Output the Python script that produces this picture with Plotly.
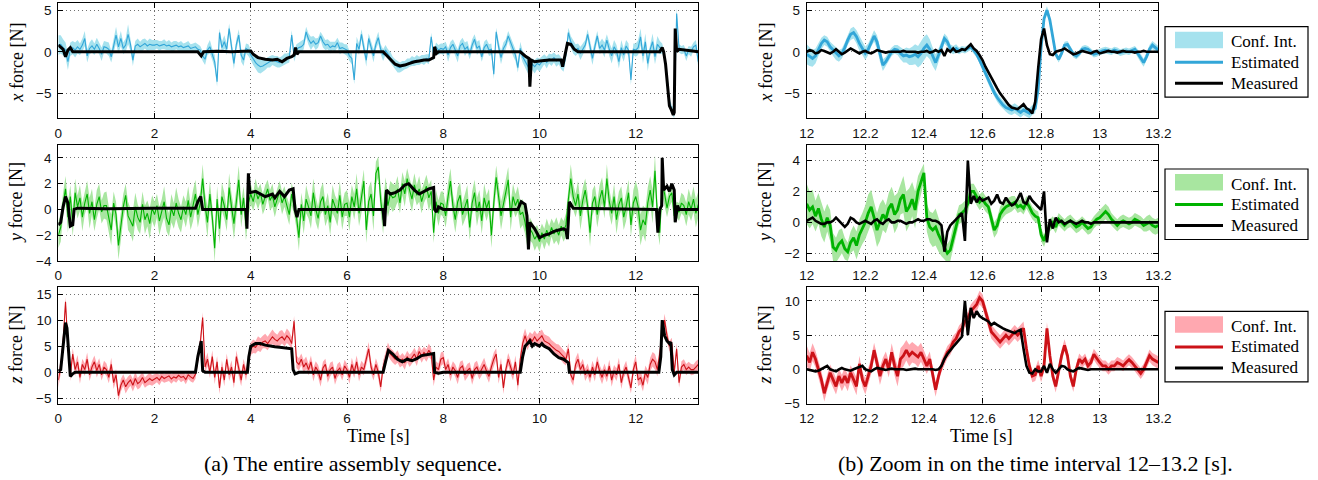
import numpy as np
import plotly.graph_objects as go

# ======================= DATA =======================
# full sequence sampled every 0.05 s (0 ... 13.3 s), zoom sampled every 0.01 s (12 ... 13.2 s)
t_full = np.round(np.arange(267) * 0.05, 2)
t_zoom = np.round(12 + np.arange(121) * 0.01, 2)

est_x_full = [
    0.8, 0.9, 0.5, 0.2, -1.2, 0.3, 0.5, 0.2, 0.6, 0.3, 0.8, 1.6, -0.5, 0.4, 0.7, 0.3, 0.9, 0.4, -0.3, 0.6,
    0.5, 0.3, -0.6, 0.7, 2.0, 0.6, 1.6, 0.4, 0.8, 2.1, 0.9, -1.0, 0.7, 0.9, 0.6, 0.8, 1.0, 0.7, 0.9, 0.8,
    0.8, 0.9, 0.7, 0.8, 0.9, 0.7, 0.8, 0.6, 0.7, 0.8, 0.6, 0.7, 0.5, 0.6, 0.7, 0.4, 0.5, 0.6, 0.3, 0.2,
    -0.5, -0.9, 0.2, 0.6, -0.3, -1.2, -3.6, 2.3, 0.5, 1.2, 0.3, 2.8, 0.6, -1.4, 0.9, 2.0, -0.4, -1.0, 0.4, 0.2,
    -0.4, -0.9, -1.3, -1.6, -1.8, -1.7, -1.5, -1.3, -1.2, -1.0, -1.1, -1.2, -1.3, -1.1, -0.9, -0.8, -0.7, 2.0, -0.5, 0.3,
    0.5, 0.6, 0.9, 2.4, 1.5, 1.0, 1.3, 0.9, 1.1, 1.9, 1.2, 0.8, 0.9, 0.5, 0.7, 0.6, 1.1, 0.4, 0.5, 0.3,
    0.2, -0.5, -0.8, -3.4, 1.0, 0.3, 2.1, 0.4, -1.0, 1.6, 0.6, -0.5, 0.9, 1.7, 0.3, -0.4, 0.2, -0.3, -0.7, -1.2,
    -1.5, -1.8, -1.9, -1.7, -1.6, -1.4, -1.3, -1.1, -1.2, -1.0, -1.1, -0.9, -1.0, -0.8, -0.9, 1.8, -0.5, 0.6, 0.2, 0.4,
    0.3, 0.6, -0.4, 0.5, 0.9, 0.2, -0.5, 0.7, 1.0, 0.3, 0.6, -0.3, 0.8, 1.5, 0.4, 0.7, -0.6, 0.5, 0.9, 0.2,
    0.3, -2.7, 2.4, 0.6, -0.7, 0.4, 0.9, 1.9, 1.1, 0.3, -0.4, -1.9, 0.4, -0.6, -1.1, -1.6, -2.2, -1.5, -1.8, -1.4,
    -1.6, -1.2, -0.9, -1.3, -0.8, -1.0, -0.7, -1.1, -0.9, -1.4, -1.8, -0.3, 2.3, 1.2, 0.6, 0.2, 0.4, -0.2, 0.3, 0.8,
    2.1, 0.5, -0.8, 0.6, 1.9, 0.4, 0.8, 0.2, 1.4, 0.3, -0.5, 0.6, 0.1, -1.2, 0.5, -0.4, 0.7, 0.2, -3.4, 0.3,
    0.2, 0.5, 1.8, -0.5, 1.2, -1.4, 0.3, 1.2, -0.6, 0.9, 0.5, 0.4, -0.6, -3.0, -6.0, -7.0, -7.4, 4.6, 0.4, 0.2,
    0.3, -0.5, 0.2, 0.0, 0.6, 0.8, -1.2]
hw_x_full = [
    1.2, 1.1, 1.0, 0.9, 1.0, 0.8, 0.8, 0.9, 0.8, 0.7, 0.8, 0.9, 0.8, 0.7, 0.8, 0.7, 0.8, 0.7, 0.8, 0.7,
    0.7, 0.8, 0.7, 0.8, 1.0, 0.8, 0.9, 0.7, 0.8, 1.2, 0.8, 0.7, 0.6, 0.7, 0.6, 0.7, 0.6, 0.6, 0.7, 0.6,
    0.6, 0.5, 0.6, 0.5, 0.6, 0.5, 0.6, 0.5, 0.6, 0.5, 0.5, 0.6, 0.5, 0.5, 0.6, 0.5, 0.5, 0.5, 0.6, 0.5,
    0.6, 0.7, 0.6, 0.8, 0.7, 0.8, 0.6, 0.5, 0.7, 0.8, 0.7, 0.6, 0.8, 0.7, 0.6, 0.7, 0.8, 0.7, 0.6, 0.7,
    0.6, 0.7, 0.8, 0.9, 0.8, 0.7, 0.7, 0.6, 0.7, 0.6, 0.6, 0.7, 0.6, 0.6, 0.7, 0.6, 0.6, 0.6, 0.7, 0.6,
    0.6, 0.7, 0.6, 0.6, 0.7, 0.8, 0.6, 0.7, 0.6, 0.5, 0.7, 0.6, 0.6, 0.7, 0.5, 0.6, 0.6, 0.7, 0.6, 0.6,
    0.7, 0.6, 0.7, 0.5, 0.8, 0.7, 0.6, 0.7, 0.8, 0.6, 0.7, 0.8, 0.6, 0.7, 0.6, 0.7, 0.6, 0.6, 0.7, 0.6,
    0.6, 0.7, 0.6, 0.6, 0.5, 0.6, 0.5, 0.6, 0.5, 0.6, 0.5, 0.5, 0.6, 0.5, 0.6, 0.5, 0.6, 0.5, 0.6, 0.6,
    0.7, 0.6, 0.8, 0.7, 0.6, 0.7, 0.8, 0.6, 0.7, 0.8, 0.7, 0.6, 0.7, 0.6, 0.8, 0.7, 0.6, 0.7, 0.6, 0.7,
    0.7, 0.6, 0.5, 0.7, 0.8, 0.7, 0.6, 0.6, 0.7, 0.8, 0.7, 0.6, 0.8, 0.7, 0.8, 0.9, 0.8, 0.7, 0.8, 0.7,
    0.8, 0.7, 0.6, 0.7, 0.6, 0.7, 0.6, 0.7, 0.6, 0.7, 0.6, 0.7, 0.6, 0.7, 0.8, 0.7, 0.6, 0.8, 0.7, 0.6,
    0.6, 0.7, 0.8, 0.7, 0.6, 0.7, 0.8, 0.9, 0.7, 0.8, 0.9, 0.8, 0.7, 0.8, 0.9, 0.8, 0.7, 0.8, 0.6, 0.7,
    0.8, 0.9, 1.0, 0.9, 1.0, 0.9, 0.8, 1.0, 0.9, 1.0, 0.8, 0.6, 0.5, 0.5, 0.6, 0.5, 0.6, 0.7, 0.5, 0.5,
    0.5, 0.6, 0.5, 0.6, 0.5, 0.6, 0.7]
meas_x_t = [0, 0.05, 0.1, 0.15, 0.2, 0.25, 0.3, 2.9, 2.97, 3.02, 3.3, 3.6, 4.0, 4.05, 4.15, 4.3, 4.45,
            4.55, 4.65, 4.75, 4.85, 4.9, 4.93, 4.96, 5.0, 6.75, 6.8, 6.9, 7.0, 7.1, 7.2, 7.3, 7.4, 7.5,
            7.6, 7.7, 7.8, 7.82, 7.86, 7.9, 9.6, 9.7, 9.78, 9.8, 9.83, 9.9, 10.0, 10.2, 10.45, 10.48,
            10.52, 10.58, 10.65, 10.72, 10.8, 12.5, 12.55, 12.58, 12.62, 12.66, 12.7, 12.74, 12.78,
            12.8, 12.82, 12.85, 12.9, 13.3]
meas_x_v = [0.8, 0.6, 0.3, -0.6, 0.2, 0.5, 0.0, 0.0, -0.5, 0.0, 0.05, 0.0, 0.1, -0.3, -0.7, -0.9, -1.0,
            -0.9, -1.2, -0.8, -0.6, -0.4, 0.5, -0.3, 0.0, 0.0, -0.3, -0.8, -1.5, -1.7, -1.6, -1.4, -1.2, -1.1,
            -1.0, -1.0, -0.7, 0.6, -0.2, 0.0, 0.0, -0.5, -0.8, -4.2, -1.0, -1.2, -1.1, -1.0, -1.0, -1.8,
            -0.5, 1.0, 0.9, 0.3, 0.0, 0.0, 0.5, 0.0, -1.5, -4.0, -6.5, -7.0, -7.6,
            -7.3, 2.8, 0.0, 0.3, 0.0]

est_y_full = [
    -2.0, -1.4, 0.4, 1.6, -0.6, 1.0, -1.1, 1.3, 0.2, 0.9, -0.6, 0.5, 1.2, -0.3, 0.6, -0.8, 0.4, 1.0, -0.2, 0.3,
    0.3, -0.8, -1.6, 0.5, -0.4, -2.8, -1.2, 0.2, 1.1, -0.5, -0.9, -1.3, 0.2, -0.6, -1.0, 0.4, -0.8, -0.3, -1.1, 0.1,
    -0.4, 0.3, -0.9, -0.2, 0.6, -0.7, -1.2, 0.1, -0.5, 0.5, -0.3, -0.8, 0.2, -0.4, 0.7, -0.6, 0.3, 1.2, -0.4, 0.5,
    2.4, 0.3, -1.0, 1.2, -0.6, -3.0, 0.8, -1.5, 1.0, 0.3, -0.8, 1.7, 0.2, -1.1, 0.6, 2.3, -0.4, 0.9, -1.3, 0.5,
    1.2, 0.6, 1.5, 0.8, 1.3, 0.4, 1.0, 1.6, 0.7, 1.1, 0.2, 0.9, 1.4, 0.5, 1.0, 0.3, -0.4, 1.2, 0.4, -0.6,
    -2.2, 0.4, -0.9, 0.8, 0.2, -0.5, 1.3, 0.0, -0.7, 0.6, 1.0, -0.4, 0.3, -1.0, 0.8, 0.2, -0.3, 1.1, -0.6, 0.4,
    0.5, -0.6, 1.0, 0.2, 1.6, -0.3, 0.8, 2.2, -1.6, 0.6, 1.2, -0.5, 2.8, 3.3, 0.7, -0.8, 1.5, 0.3, 1.2, 0.9,
    1.0, 1.6, 0.5, 2.0, 1.2, 2.4, 1.5, 0.8, 1.9, 1.1, 1.6, 0.6, 1.3, 1.8, 0.9, 1.4, -1.8, 0.6, -0.3, 0.5,
    0.4, -0.5, 1.0, 2.2, 0.3, -0.8, 0.6, 1.1, -0.4, 0.2, 0.8, -1.4, 0.5, 1.3, -0.2, 0.6, -0.9, 0.9, 0.1, 0.7,
    -2.0, 0.5, 2.5, 1.0, -0.5, 0.4, 1.5, 2.3, -0.6, 1.0, 0.3, 0.8, -0.4, -0.2, -1.0, -2.2, -1.5, -1.8, -2.3, -2.0,
    -2.5, -1.8, -2.3, -1.6, -2.1, -1.4, -1.9, -1.5, -2.0, -1.3, -1.7, -1.2, 0.8, 2.4, 1.0, 0.3, 1.2, -0.5, 0.7, 1.5,
    0.3, -1.8, 0.5, 1.0, -0.4, 0.8, 1.5, 0.2, 2.4, 0.6, -0.3, 1.0, -0.8, 0.4, 0.9, -0.6, 0.2, 1.3, -1.2, 0.5,
    1.0, 0.2, -1.6, -0.8, -1.2, 0.5, 1.5, 0.2, 3.0, -0.5, -1.8, 2.0, 1.2, 0.1, 1.0, 1.3, -0.5, 0.0, -0.2, 0.5,
    0.3, -0.4, 0.6, 0.0, 0.8, -0.3, 0.4]
hw_y_full = [
    1.0, 1.1, 0.9, 1.0, 1.2, 0.9, 1.0, 1.1, 0.9, 1.0, 1.1, 0.9, 1.0, 1.2, 1.0, 0.9, 1.1, 1.0, 0.9, 1.0,
    1.1, 1.0, 1.2, 0.9, 1.0, 1.1, 1.2, 1.0, 0.9, 1.1, 1.0, 1.2, 1.1, 1.0, 0.9, 1.0, 1.1, 1.0, 1.2, 1.0,
    1.0, 0.9, 1.1, 1.0, 1.2, 1.0, 0.9, 1.1, 1.0, 1.2, 1.1, 1.0, 0.9, 1.0, 1.1, 1.0, 1.2, 1.1, 1.0, 0.9,
    1.1, 1.0, 1.2, 1.0, 0.9, 1.1, 1.0, 1.2, 1.1, 1.0, 0.9, 1.1, 1.0, 1.2, 1.0, 1.1, 1.0, 0.9, 1.1, 1.0,
    0.8, 0.7, 0.9, 0.8, 0.7, 0.8, 0.9, 0.7, 0.8, 0.9, 0.8, 0.7, 0.8, 0.9, 0.8, 0.7, 0.8, 0.9, 0.8, 0.9,
    1.0, 0.9, 1.0, 1.1, 0.9, 1.0, 1.1, 1.0, 0.9, 1.0, 1.1, 0.9, 1.0, 1.0, 1.1, 0.9, 1.0, 1.1, 1.0, 0.9,
    1.0, 1.1, 0.9, 1.0, 1.2, 1.0, 1.1, 0.9, 1.0, 1.1, 1.0, 1.2, 0.9, 0.8, 1.0, 1.1, 1.0, 0.9, 1.0, 1.1,
    0.9, 1.0, 0.8, 0.9, 1.0, 0.8, 0.9, 1.0, 0.9, 0.8, 1.0, 0.9, 0.8, 0.9, 1.0, 0.9, 0.8, 0.9, 1.0, 0.9,
    1.0, 0.9, 1.1, 1.0, 0.9, 1.0, 1.1, 1.0, 0.9, 1.0, 1.1, 1.0, 0.9, 1.0, 1.1, 0.9, 1.0, 1.1, 1.0, 0.9,
    1.0, 1.1, 0.9, 1.0, 1.1, 1.0, 0.9, 1.0, 1.1, 1.0, 0.9, 1.0, 1.1, 1.0, 0.9, 0.8, 0.9, 0.8, 0.9, 0.8,
    0.8, 0.7, 0.8, 0.9, 0.8, 0.7, 0.8, 0.9, 0.8, 0.7, 0.8, 0.9, 1.0, 1.1, 1.0, 0.9, 1.0, 1.1, 1.0, 0.9,
    1.0, 1.1, 1.0, 0.9, 1.0, 1.1, 1.0, 0.9, 1.1, 1.0, 0.9, 1.0, 1.1, 1.0, 0.9, 1.0, 1.1, 1.0, 0.9, 1.0,
    1.2, 1.3, 1.2, 1.1, 1.3, 1.2, 1.1, 1.3, 1.2, 1.1, 1.0, 0.9, 0.8, 0.7, 0.8, 0.7, 0.6, 0.6, 0.7, 0.8,
    0.8, 0.9, 1.0, 0.9, 1.0, 1.1, 1.0]
meas_y_t = [0, 0.05, 0.1, 0.15, 0.2, 0.25, 0.3, 0.33, 0.4, 1.0, 2.0, 2.85, 2.9, 2.96, 3.0, 3.9, 3.92, 3.95,
            3.98, 4.1, 4.2, 4.3, 4.45, 4.5, 4.6, 4.7, 4.8, 4.88, 4.92, 4.96, 5.0, 6.75, 6.78, 6.82, 6.9,
            7.0, 7.1, 7.2, 7.28, 7.4, 7.5, 7.6, 7.7, 7.8, 7.82, 7.86, 7.9, 8.0, 9.55, 9.62, 9.7, 9.74,
            9.77, 9.8, 9.9, 10.0, 10.1, 10.2, 10.3, 10.4, 10.5, 10.55, 10.58, 10.62, 10.66, 10.7, 12.43,
            12.46, 12.5, 12.54, 12.55, 12.58, 12.65, 12.7, 12.75, 12.8, 12.82, 12.87, 12.9, 13.3]
meas_y_v = [-1.2, -1.0, 0.2, 1.0, 0.5, -1.3, -1.2, 0.0, 0.1, 0.05, 0.1, 0.1, 0.6, 1.0, 0.0, 0.0, -1.5, 2.8,
            1.3, 1.4, 1.2, 1.0, 1.2, 0.9, 1.4, 1.0, 1.5, 1.6, 0.0, -0.6, 0.0, 0.0, -1.3, 1.5, 1.2,
            1.3, 1.5, 1.9, 2.0, 1.5, 1.2, 1.4, 1.6, 1.7, 0.0, -0.2, 0.2, 0.0, 0.0, 0.6, 0.4, -0.5,
            -3.1, -1.0, -1.5, -2.2, -2.0, -1.9, -1.7, -1.6, -1.5, -1.6, -2.3, 0.6, 0.3, 0.1, 0.0,
            -1.8, 0.0, 0.3, 4.0, 1.5, 1.8, 1.4, 2.0, 1.5, -1.0, 0.3, 0.0, 0.0]

est_z_full = [
    -1.5, 1.0, 6.0, 13.5, 5.0, -0.5, 3.5, 0.5, 2.0, -1.0, 1.5, 0.5, 2.5, -0.5, 1.0, 2.0, 0.3, 1.5, -0.5, 1.0,
    0.5, -1.0, 1.5, -2.0, -0.5, -4.5, -2.5, -1.5, -2.8, -2.0, -1.5, -2.5, -1.2, -2.2, -1.8, -1.0, -2.0, -1.5, -1.2, -1.6,
    -1.3, -1.0, -1.5, -0.8, -1.2, -1.0, -0.7, -1.3, -0.9, -1.1, -0.6, -1.0, -0.8, -1.4, -0.5, -0.9, -1.2, -0.4, 2.5, 5.5,
    10.5, 1.0, 2.5, 0.0, 3.0, -1.0, 2.0, -3.0, 1.0, -1.5, 2.5, -0.5, 1.0, -2.0, 3.0, 0.5, -1.5, 1.5, -0.5, 2.0,
    4.5, 5.0, 4.8, 5.5, 5.2, 5.8, 6.0, 5.5, 6.2, 6.8, 6.3, 6.0, 6.5, 6.8, 6.2, 7.0, 6.5, 5.5, 9.8, 2.0,
    1.5, 2.5, 1.0, 1.8, 0.5, 2.0, -0.5, 1.0, 0.2, -1.5, 0.8, 1.5, -0.8, 0.5, 1.0, -1.2, 0.3, 0.8, -0.5, 1.2,
    0.5, -1.0, 1.5, 0.0, 2.0, -0.5, 1.0, 0.5, 2.5, 4.5, 1.0, -0.5, 1.5, 0.0, -2.8, 1.0, 2.5, 4.5, 3.5, 3.0,
    2.5, 3.0, 2.0, 2.5, 1.8, 3.0, 2.2, 2.8, 3.5, 2.5, 4.0, 3.0, 3.8, 3.2, 4.2, 3.5, -1.5, 1.0, 0.5, 2.5,
    2.8, 0.5, 1.5, -0.5, 1.0, 0.3, -1.0, 0.8, 1.2, -0.5, 0.3, 0.8, -1.2, 0.5, 1.0, -0.3, 0.6, 1.5, 0.2, -0.8,
    1.0, 2.5, 3.5, -1.0, 1.5, -3.0, 0.5, 2.5, 1.0, -0.5, 2.0, -2.5, 2.5, 5.5, 7.0, 5.5, 6.5, 6.0, 6.8, 6.0,
    6.5, 7.0, 6.0, 5.8, 5.5, 5.0, 4.5, 4.2, 4.0, 3.5, 3.0, 2.5, 4.5, -0.5, -1.5, 1.5, 2.5, 0.5, 1.5, -0.5,
    0.5, -1.0, 1.0, -0.5, 2.0, 0.2, -1.0, 0.5, -0.8, 1.2, -1.5, 0.3, -0.5, 1.5, -2.0, 0.0, 1.0, -1.0, -3.0, 0.5,
    2.0, -1.5, -1.0, -2.5, 0.0, -1.0, 1.5, 2.5, 2.0, 0.5, 4.0, 7.5, 10.0, 7.0, 5.0, 5.5, 0.0, 4.5, -2.0, 1.0,
    1.5, 0.5, 1.0, 0.5, 0.5, 1.0, 1.5]
hw_z_full = [
    1.5, 1.3, 1.2, 1.0, 1.3, 1.2, 1.1, 1.2, 1.3, 1.2, 1.1, 1.2, 1.3, 1.2, 1.1, 1.2, 1.3, 1.2, 1.1, 1.2,
    1.2, 1.1, 1.3, 1.2, 1.1, 1.0, 1.2, 1.1, 1.3, 1.2, 1.1, 1.2, 1.3, 1.1, 1.2, 1.1, 1.0, 1.1, 1.2, 1.0,
    1.0, 0.9, 1.0, 0.9, 0.8, 0.9, 1.0, 0.9, 0.8, 0.9, 0.8, 0.9, 0.8, 0.9, 0.8, 0.9, 0.8, 0.9, 1.0, 1.2,
    1.0, 1.2, 1.3, 1.1, 1.2, 1.3, 1.1, 1.2, 1.3, 1.2, 1.1, 1.2, 1.3, 1.1, 1.2, 1.3, 1.2, 1.1, 1.2, 1.3,
    1.2, 1.3, 1.2, 1.4, 1.3, 1.2, 1.4, 1.3, 1.2, 1.4, 1.3, 1.2, 1.4, 1.3, 1.2, 1.4, 1.3, 1.2, 1.0, 1.2,
    1.2, 1.1, 1.3, 1.2, 1.1, 1.2, 1.3, 1.1, 1.2, 1.3, 1.2, 1.1, 1.2, 1.3, 1.1, 1.2, 1.3, 1.2, 1.1, 1.2,
    1.1, 1.2, 1.3, 1.1, 1.2, 1.3, 1.2, 1.1, 1.2, 1.3, 1.2, 1.1, 1.2, 1.3, 1.1, 1.2, 1.3, 1.2, 1.1, 1.2,
    1.1, 1.2, 1.1, 1.2, 1.3, 1.1, 1.2, 1.1, 1.2, 1.3, 1.1, 1.2, 1.1, 1.2, 1.3, 1.1, 1.2, 1.1, 1.2, 1.3,
    1.2, 1.1, 1.2, 1.3, 1.1, 1.2, 1.3, 1.2, 1.1, 1.2, 1.3, 1.1, 1.2, 1.3, 1.2, 1.1, 1.2, 1.3, 1.1, 1.2,
    1.2, 1.3, 1.1, 1.2, 1.3, 1.2, 1.1, 1.2, 1.3, 1.1, 1.2, 1.3, 1.2, 1.3, 1.4, 1.3, 1.2, 1.3, 1.2, 1.3,
    1.3, 1.2, 1.3, 1.2, 1.3, 1.2, 1.3, 1.2, 1.3, 1.2, 1.3, 1.2, 1.1, 1.2, 1.1, 1.2, 1.3, 1.2, 1.1, 1.2,
    1.2, 1.1, 1.2, 1.3, 1.1, 1.2, 1.3, 1.2, 1.1, 1.2, 1.3, 1.1, 1.2, 1.3, 1.2, 1.1, 1.2, 1.3, 1.1, 1.2,
    1.3, 1.2, 1.3, 1.2, 1.3, 1.4, 1.3, 1.4, 1.5, 1.3, 1.2, 1.1, 1.2, 1.1, 1.0, 1.1, 1.0, 1.1, 1.0, 1.1,
    1.0, 1.1, 1.0, 1.1, 1.0, 1.1, 1.0]
meas_z_t = [0, 0.05, 0.1, 0.15, 0.18, 0.22, 0.25, 0.3, 0.35, 2.85, 2.9, 2.97, 3.0, 3.05, 3.93, 3.96, 4.0,
            4.1, 4.2, 4.3, 4.4, 4.5, 4.6, 4.7, 4.8, 4.85, 4.88, 4.92, 5.0, 6.75, 6.8, 6.86, 6.95, 7.05,
            7.15, 7.25, 7.35, 7.45, 7.55, 7.65, 7.75, 7.8, 7.82, 7.9, 8.0, 9.6, 9.65, 9.7, 9.8, 9.85,
            9.9, 10.0, 10.05, 10.1, 10.2, 10.3, 10.4, 10.5, 10.6, 10.62, 12.48, 12.52, 12.55, 12.6,
            12.65, 12.7, 12.73, 12.76, 12.8, 12.85, 13.3]
meas_z_v = [0.2, 0.5, 5.0, 9.5, 8.5, 2.0, -0.8, -0.3, 0.0, 0.0, 3.0, 6.0, 0.3, 0.0, 0.0, 3.0, 5.0,
            5.5, 5.5, 5.2, 5.0, 4.9, 4.8, 4.7, 4.6, 4.5, 0.5, -0.3, 0.0, 0.0, 2.0, 4.2, 3.5, 2.5,
            2.0, 2.5, 2.2, 2.6, 3.2, 3.4, 3.5, 3.6, 0.0, -0.2, 0.0, 0.0, 3.0, 5.0, 6.0, 5.0,
            5.5, 5.0, 5.5, 5.0, 4.5, 3.5, 2.8, 2.5, 1.8, 0.0, 0.0, 3.0, 10.0, 7.0,
            6.0, 5.5, 5.8, 0.5, -0.5, 0.0, 0.0]

# ---- zoom 12 - 13.2 s ----
est_x_zoom = [
    -0.3, -0.6, -0.8, -0.5, 0.3, 1.0, 1.4, 1.2, 0.6, 0.2,
    -0.2, -0.5, -0.2, 0.5, 1.4, 2.1, 2.3, 1.8, 1.0, 0.4,
    -0.2, 0.3, 1.2, 1.9, 1.2, -0.3, -1.6, -1.2, -0.5, 0.0,
    0.3, 0.2, -0.2, -0.5, -0.4, -0.6, -0.5, -0.3, -0.6, -0.2,
    0.4, 0.8, 0.3, -0.6, -1.3, -0.4, 0.6, 1.6, 1.2, 0.4,
    0.2, 0.4, 0.1, 0.3, 0.2, 0.4, 0.6, 0.2, -0.3, -1.0,
    -1.8, -2.6, -3.4, -4.2, -4.9, -5.5, -6.0, -6.4, -6.7, -6.9,
    -7.0, -6.8, -7.1, -7.3, -7.0, -7.2, -7.4, -7.0, -6.8, -4.5,
    0.5, 4.0, 5.0, 3.8, 1.5, -0.3, -0.9, -0.2, 0.8, 0.9,
    0.3, -0.3, -0.5, -0.2, 0.3, 0.4, 0.3, 0.0, -0.3, -0.2,
    0.0, 0.1, 0.2, 0.1, 0.0, 0.2, 0.1, -0.1, 0.0, 0.1,
    0.0, 0.2, 0.3, -0.2, -0.8, -1.3, -0.6, 0.3, 0.8, 0.5,
    0.2]
hw_x_zoom = [
    1.2, 1.1, 1.0, 0.9, 0.8, 0.7, 0.6, 0.6, 0.6, 0.7,
    0.8, 0.7, 0.6, 0.6, 0.6, 0.7, 0.7, 0.8, 0.9, 0.8,
    0.8, 0.7, 0.6, 0.7, 0.8, 0.9, 0.7, 0.6, 0.6, 0.5,
    0.5, 0.6, 0.7, 0.8, 0.9, 1.0, 1.1, 1.2, 1.3, 1.4,
    1.4, 1.3, 1.2, 1.1, 1.0, 0.8, 0.7, 0.6, 0.6, 0.5,
    0.5, 0.5, 0.4, 0.4, 0.4, 0.4, 0.4, 0.4, 0.4, 0.4,
    0.4, 0.4, 0.5, 0.5, 0.5, 0.5, 0.5, 0.5, 0.5, 0.6,
    0.6, 0.6, 0.6, 0.6, 0.6, 0.6, 0.6, 0.6, 0.6, 0.5,
    0.5, 0.5, 0.5, 0.5, 0.4, 0.4, 0.4, 0.4, 0.4, 0.4,
    0.4, 0.4, 0.4, 0.4, 0.4, 0.4, 0.4, 0.4, 0.4, 0.4,
    0.4, 0.4, 0.4, 0.4, 0.4, 0.4, 0.4, 0.4, 0.4, 0.4,
    0.4, 0.4, 0.4, 0.5, 0.5, 0.5, 0.5, 0.5, 0.5, 0.5,
    0.5]
meas_x_zoom = [
    0.0, 0.2, 0.1, -0.2, -0.1, 0.2, 0.1, -0.1, -0.2, 0.0,
    0.3, 0.0, -0.3, -0.1, 0.2, 0.4, 0.2, 0.0, -0.2, 0.0,
    0.1, -0.1, -0.2, 0.0, 0.2, 0.1, 0.0, -0.1, 0.0, 0.0,
    0.0, 0.0, 0.0, 0.1, 0.0, 0.0, 0.0, 0.0, -0.1, 0.0,
    0.0, 0.1, -0.1, 0.0, 0.2, 0.0, 0.2, -0.5, 0.3, 0.0,
    0.4, 0.0, 0.1, 0.3, 0.2, 0.5, 0.9, 0.4, 0.1, -0.4,
    -1.0, -1.8, -2.5, -3.2, -3.8, -4.4, -5.0, -5.5, -6.0, -6.4,
    -6.7, -6.8, -6.9, -6.6, -6.3, -6.8, -7.0, -7.4, -6.0, -2.0,
    1.5, 2.8, 0.8, -0.3, -0.4, 0.0, 0.1, 0.2, 0.4, 0.2,
    -0.1, -0.3, -0.2, 0.0, 0.1, 0.0, -0.1, -0.2, 0.0, 0.1,
    -0.2, -0.1, 0.0, 0.1, 0.0, 0.0, -0.1, 0.0, 0.1, 0.0,
    0.0, 0.0, -0.1, 0.0, 0.0, 0.1, 0.0, 0.0, 0.0, 0.0,
    0.0]

est_y_zoom = [
    1.2, 0.8, 1.0, 0.4, 0.9, 0.2, -0.3, 0.3, -0.2, -1.6,
    -1.8, -1.4, -1.2, -1.7, -1.9, -1.3, -1.0, -1.5, -0.8, -0.4,
    0.0, 0.6, 1.0, 0.3, -0.5, 0.0, 0.5, 0.2, 0.9, 1.2,
    0.5, 0.8, 1.5, 1.8, 0.7, 1.0, 1.5, 0.8, 2.0, 2.6,
    3.2, 0.3, -0.3, -0.5, -0.3, -0.8, -1.2, -1.6, -2.0, -1.8,
    -1.0, -0.2, 0.5, 0.6, 0.8, 1.2, 2.0, 2.0, 1.6, 1.3,
    1.5, 1.2, 1.0, 0.2, -0.5, -0.2, 0.5, 0.8, 1.0, 1.1,
    1.2, 1.3, 1.0, 1.1, 0.9, 1.3, 1.0, 0.6, 0.4, 0.3,
    -0.8, -1.2, -0.6, -0.2, 0.0, -0.3, 0.2, 0.0, -0.2, 0.0,
    0.1, -0.1, -0.3, -0.2, 0.0, -0.2, -0.4, -0.3, 0.0, 0.2,
    0.3, 0.5, 0.7, 0.5, 0.2, 0.0, -0.2, 0.0, 0.1, 0.0,
    -0.1, 0.0, 0.2, 0.1, 0.0, -0.2, -0.1, 0.0, -0.2, -0.3,
    -0.2]
hw_y_zoom = [
    1.3, 1.2, 1.1, 1.0, 1.0, 1.1, 1.0, 0.9, 1.0, 0.9,
    0.8, 0.9, 0.8, 0.7, 0.6, 0.7, 0.8, 0.9, 1.0, 1.0,
    1.1, 1.2, 1.1, 1.0, 1.1, 1.2, 1.0, 0.9, 1.0, 1.1,
    1.2, 1.1, 1.0, 1.2, 1.3, 1.2, 1.1, 1.2, 1.0, 0.8,
    0.6, 0.9, 1.0, 1.1, 1.2, 1.1, 1.0, 0.8, 0.6, 0.7,
    0.8, 0.7, 0.6, 0.6, 0.6, 0.6, 0.5, 0.5, 0.5, 0.5,
    0.5, 0.5, 0.5, 0.5, 0.5, 0.5, 0.5, 0.5, 0.5, 0.5,
    0.5, 0.4, 0.4, 0.4, 0.4, 0.4, 0.4, 0.4, 0.4, 0.4,
    0.4, 0.4, 0.4, 0.4, 0.4, 0.4, 0.4, 0.4, 0.4, 0.4,
    0.4, 0.4, 0.4, 0.4, 0.4, 0.4, 0.4, 0.4, 0.4, 0.4,
    0.5, 0.5, 0.5, 0.5, 0.4, 0.4, 0.4, 0.4, 0.4, 0.4,
    0.4, 0.4, 0.4, 0.4, 0.4, 0.4, 0.5, 0.5, 0.5, 0.5,
    0.5]
meas_y_zoom = [
    0.1, 0.2, 0.3, 0.1, 0.0, -0.1, -0.1, 0.0, 0.0, 0.1,
    0.3, 0.1, -0.1, -0.3, -0.1, 0.3, 0.2, 0.0, -0.1, 0.0,
    0.1, 0.0, -0.1, 0.1, 0.2, 0.0, -0.1, 0.1, 0.2, 0.0,
    0.0, 0.1, 0.1, 0.0, -0.1, 0.0, 0.0, 0.1, 0.2, 0.1,
    0.1, 0.2, 0.2, 0.1, 0.1, 0.0, -0.2, -1.9, -0.6, -0.2,
    0.0, 0.2, 0.4, 0.6, -1.2, 4.0, 1.2, 1.7, 1.3, 1.6,
    1.4, 1.5, 1.6, 1.2, 1.4, 1.8, 1.3, 1.2, 1.6, 1.3,
    1.1, 1.2, 1.5, 1.9, 1.3, 1.2, 1.7, 1.4, 1.2, 1.0,
    0.8, 2.0, -1.3, 0.2, -0.4, 0.3, 0.0, 0.1, -0.1, 0.0,
    0.1, 0.0, -0.1, 0.0, 0.1, 0.0, 0.0, -0.1, 0.0, 0.0,
    0.0, 0.0, 0.0, 0.0, 0.0, 0.0, 0.0, 0.0, 0.0, 0.0,
    0.0, 0.0, 0.0, 0.0, 0.0, 0.0, 0.0, 0.0, 0.0, 0.0,
    0.0]

est_z_zoom = [
    2.0, 1.0, 2.5, 1.5, 0.0, -1.5, -3.5, -2.0, -0.5, -1.5,
    -2.5, -1.0, -2.0, -1.0, -2.0, -0.5, -1.5, -2.5, 0.8, -1.5,
    -2.5, -1.0, 0.5, 2.8, 1.0, -1.0, 0.5, 1.5, 0.0, 2.5,
    0.5, -1.0, 1.5, 2.0, 2.8, 2.0, 2.5, 2.2, 1.8, 2.5,
    1.5, 0.5, 1.5, -1.0, -3.0, -1.0, 0.5, 1.5, 2.5, 3.0,
    4.0, 4.5, 5.5, 6.0, 7.0, 7.5, 8.5, 9.0, 9.5, 10.5,
    10.0, 8.5, 7.0, 5.5, 5.0, 4.5, 4.0, 4.5, 5.0, 4.5,
    5.0, 5.5, 5.0, 5.5, 6.0, 3.0, 0.5, -1.0, -0.8, 0.5,
    -1.0, 0.5, 6.0, 2.0, -1.0, -2.5, 0.0, 2.0, 3.5, 2.0,
    -1.0, -2.5, 0.0, 1.5, 1.0, 1.5, 0.5, 1.0, 2.2, 1.5,
    1.0, 0.5, 0.5, 0.0, 0.5, 0.5, 1.0, 0.8, 0.5, 1.0,
    1.4, 1.0, 0.5, 0.0, -0.6, 0.0, 1.0, 2.0, 1.5, 1.2,
    1.0]
hw_z_zoom = [
    1.5, 1.4, 1.3, 1.2, 1.2, 1.3, 1.2, 1.1, 1.2, 1.3,
    1.2, 1.1, 1.2, 1.3, 1.2, 1.1, 1.2, 1.3, 1.2, 1.1,
    1.2, 1.3, 1.2, 1.1, 1.2, 1.3, 1.2, 1.1, 1.2, 1.3,
    1.4, 1.5, 1.6, 1.6, 1.5, 1.6, 1.5, 1.4, 1.5, 1.4,
    1.3, 1.2, 1.1, 1.0, 1.0, 0.9, 0.9, 0.9, 0.9, 0.9,
    0.9, 0.9, 0.9, 0.9, 0.9, 0.9, 1.0, 1.0, 1.0, 1.0,
    1.0, 1.0, 1.0, 1.0, 1.0, 1.0, 1.0, 1.0, 1.0, 1.0,
    1.0, 1.0, 1.0, 1.0, 1.0, 0.9, 0.9, 0.9, 0.9, 0.9,
    0.9, 0.9, 0.9, 0.9, 0.9, 0.9, 0.9, 0.9, 0.9, 0.9,
    0.8, 0.8, 0.8, 0.8, 0.8, 0.8, 0.8, 0.8, 0.8, 0.8,
    0.8, 0.8, 0.8, 0.8, 0.8, 0.8, 0.8, 0.8, 0.8, 0.8,
    0.8, 0.8, 0.8, 0.8, 0.8, 0.8, 0.9, 0.9, 0.9, 0.9,
    0.9]
meas_z_zoom = [
    0.0, -0.1, -0.2, -0.3, -0.2, 0.0, 0.3, 0.5, 0.0, -0.2,
    -0.3, 0.0, 0.2, 0.0, -0.1, -0.2, 0.0, 0.2, 0.3, 0.5,
    0.0, -0.2, -0.3, 0.0, 0.2, 0.1, 0.0, -0.1, 0.0, 0.1,
    0.0, 0.0, 0.1, 0.0, -0.1, 0.0, 0.0, 0.1, 0.0, 0.0,
    0.0, 0.1, 0.0, 0.0, -0.1, 0.0, 0.5, 1.5, 2.2, 2.8,
    3.3, 3.8, 4.3, 4.8, 10.0, 5.0, 9.0, 7.5, 8.5, 7.8,
    7.5, 7.2, 7.0, 6.5, 6.8, 6.5, 6.2, 6.0, 5.8, 5.6,
    5.5, 5.3, 5.6, 5.8, 3.0, 0.5, -0.5, -0.6, 0.0, -0.3,
    -0.3, 0.5, -0.5, 0.8, 0.0, -0.5, 0.0, 0.5, 0.4, 0.0,
    -0.2, -0.3, 0.0, 0.2, 0.1, 0.0, -0.1, 0.0, 0.0, 0.0,
    0.0, 0.0, 0.0, 0.0, 0.0, 0.0, 0.0, 0.0, 0.0, 0.0,
    0.0, 0.0, 0.0, 0.0, 0.0, 0.0, 0.0, 0.0, 0.0, 0.0,
    0.0]

# axis ticks / labels
x_ticks_full = [0, 2, 4, 6, 8, 10, 12]
x_ticks_zoom = [12, 12.2, 12.4, 12.6, 12.8, 13, 13.2]
x_ticktext_zoom = ["12", "12.2", "12.4", "12.6", "12.8", "13", "13.2"]
y_ticks = {
    "x_full": [-5, 0, 5], "x_zoom": [-5, 0, 5],
    "y_full": [-4, -2, 0, 2, 4], "y_zoom": [-2, 0, 2, 4],
    "z_full": [-5, 0, 5, 10, 15], "z_zoom": [-5, 0, 5, 10],
}
y_titles = ["<i>x</i> force [N]", "<i>y</i> force [N]", "<i>z</i> force [N]"]
legend_labels = ["Conf. Int.", "Estimated", "Measured"]
x_title = "Time [s]"
captions = ["(a) The entire assembly sequence.", "(b) Zoom in on the time interval 12\u201313.2 [s]."]

for a, b in [(est_x_full, hw_x_full), (est_y_full, hw_y_full), (est_z_full, hw_z_full)]:
    assert len(a) == len(t_full) and len(b) == len(t_full), (len(a), len(b))
for a in [est_x_zoom, hw_x_zoom, meas_x_zoom, est_y_zoom, hw_y_zoom, meas_y_zoom,
          est_z_zoom, hw_z_zoom, meas_z_zoom]:
    assert len(a) == len(t_zoom), len(a)
for a, b in [(meas_x_t, meas_x_v), (meas_y_t, meas_y_v), (meas_z_t, meas_z_v)]:
    assert len(a) == len(b), (len(a), len(b))

# ======================= STYLE / LAYOUT =======================
W, H = 1318, 480
def fx(px): return px / W
def fy(py): return 1 - py / H

ci_colors = ["#a6e2ee", "#a8e6a0", "#ffa8b0"]
est_colors = ["#32a6d8", "#00b300", "#cc1218"]
SERIF = "Liberation Serif, Times New Roman, serif"
SANS = "Liberation Sans, Arial, sans-serif"

COLS = [(58.3, 698.3), (806.7, 1158.3)]
ROWS = [(2.7, 118.3), (145.0, 261.0), (287.3, 403.5)]

panels = [
    dict(row=0, col=0, t=t_full, est=est_x_full, hw=hw_x_full, mt=meas_x_t, mv=meas_x_v, yr=[-8, 5.9], yt=y_ticks["x_full"]),
    dict(row=0, col=1, t=t_zoom, est=est_x_zoom, hw=hw_x_zoom, mt=t_zoom, mv=meas_x_zoom, yr=[-8, 5.9], yt=y_ticks["x_zoom"]),
    dict(row=1, col=0, t=t_full, est=est_y_full, hw=hw_y_full, mt=meas_y_t, mv=meas_y_v, yr=[-4, 5], yt=y_ticks["y_full"]),
    dict(row=1, col=1, t=t_zoom, est=est_y_zoom, hw=hw_y_zoom, mt=t_zoom, mv=meas_y_zoom, yr=[-2.5, 5], yt=y_ticks["y_zoom"]),
    dict(row=2, col=0, t=t_full, est=est_z_full, hw=hw_z_full, mt=meas_z_t, mv=meas_z_v, yr=[-6, 16.3], yt=y_ticks["z_full"]),
    dict(row=2, col=1, t=t_zoom, est=est_z_zoom, hw=hw_z_zoom, mt=t_zoom, mv=meas_z_zoom, yr=[-5, 12], yt=y_ticks["z_zoom"]),
]

common = dict(showline=True, linecolor="black", linewidth=1.2, mirror="ticks",
              ticks="inside", ticklen=5, tickwidth=1, tickcolor="black",
              showgrid=True, gridcolor="#707070", griddash="1px,3px", gridwidth=1,
              zeroline=False, automargin=False,
              tickfont=dict(family=SANS, size=13.5, color="#111"))

fig = go.Figure()
layout_axes = {}
for i, p in enumerate(panels):
    n = i + 1
    xa = "x" if n == 1 else f"x{n}"
    ya = "y" if n == 1 else f"y{n}"
    r, c = p["row"], p["col"]
    t = np.asarray(p["t"])
    est = np.asarray(p["est"], dtype=float)
    hw = np.asarray(p["hw"], dtype=float)
    upper, lower = est + hw, est - hw
    zoom = c == 1
    fig.add_trace(go.Scatter(
        x=np.concatenate([t, t[::-1]]), y=np.concatenate([upper, lower[::-1]]),
        fill="toself", fillcolor=ci_colors[r], line=dict(width=0), mode="lines",
        name=legend_labels[0], xaxis=xa, yaxis=ya, hoverinfo="skip", showlegend=False))
    fig.add_trace(go.Scatter(
        x=t, y=est, mode="lines", line=dict(color=est_colors[r], width=2.8 if zoom else 1.1),
        name=legend_labels[1], xaxis=xa, yaxis=ya, showlegend=False))
    fig.add_trace(go.Scatter(
        x=p["mt"], y=p["mv"], mode="lines", line=dict(color="black", width=2.6 if zoom else 3),
        name=legend_labels[2], xaxis=xa, yaxis=ya, showlegend=False))

    x0, x1 = COLS[c]
    y0, y1 = ROWS[r]
    xkey = "xaxis" if n == 1 else f"xaxis{n}"
    ykey = "yaxis" if n == 1 else f"yaxis{n}"
    if zoom:
        xt = dict(range=[12, 13.2], tickvals=x_ticks_zoom, ticktext=x_ticktext_zoom)
    else:
        xt = dict(range=[0, 13.3], tickvals=x_ticks_full)
    layout_axes[xkey] = dict(domain=[fx(x0), fx(x1)], anchor=ya, ticklabelstandoff=2, **xt, **common)
    layout_axes[ykey] = dict(domain=[fy(y1), fy(y0)], anchor=xa, range=p["yr"], tickvals=p["yt"],
                             ticklabelstandoff=3, **common)

fig.update_layout(**layout_axes)

annotations = []
shapes = []
# y-axis titles
for r in range(3):
    yc = (ROWS[r][0] + ROWS[r][1]) / 2 + (2 if r == 0 else 0)
    for xc in (16, 765):
        annotations.append(dict(text=y_titles[r], x=fx(xc), y=fy(yc), xref="paper", yref="paper",
                                showarrow=False, textangle=-90, xanchor="center", yanchor="middle",
                                font=dict(family=SERIF, size=18, color="black")))
# x titles
for xc in (378, 982):
    annotations.append(dict(text=x_title, x=fx(xc), y=fy(435.5), xref="paper", yref="paper",
                            showarrow=False, xanchor="center", yanchor="middle",
                            font=dict(family=SERIF, size=18.5, color="black")))
# captions
for xc, cap in zip((353, 1035), captions):
    annotations.append(dict(text=cap, x=fx(xc), y=fy(463.5), xref="paper", yref="paper",
                            showarrow=False, xanchor="center", yanchor="middle",
                            font=dict(family=SERIF, size=22, color="black")))
# legends (one per row)
for r in range(3):
    top = ROWS[r][0] + 24
    shapes.append(dict(type="rect", xref="paper", yref="paper", x0=fx(1165), x1=fx(1308),
                       y0=fy(top + 70.5), y1=fy(top), line=dict(color="black", width=1.2),
                       fillcolor="white", layer="above"))
    shapes.append(dict(type="rect", xref="paper", yref="paper", x0=fx(1175), x1=fx(1223),
                       y0=fy(top + 21.5), y1=fy(top + 5), line=dict(width=0),
                       fillcolor=ci_colors[r], layer="above"))
    for col, dy in [(est_colors[r], 35.6), ("black", 56.6)]:
        shapes.append(dict(type="line", xref="paper", yref="paper", x0=fx(1175), x1=fx(1223),
                           y0=fy(top + dy), y1=fy(top + dy), line=dict(color=col, width=3),
                           layer="above"))
    for lab, dy in zip(legend_labels, (15, 35.6, 56.6)):
        annotations.append(dict(text=lab, x=fx(1229), y=fy(top + dy), xref="paper", yref="paper",
                                showarrow=False, xanchor="left", yanchor="middle",
                                font=dict(family=SERIF, size=17, color="black")))

fig.update_layout(width=W, height=H, margin=dict(l=0, r=0, t=0, b=0, pad=0),
                  paper_bgcolor="white", plot_bgcolor="white", showlegend=False,
                  annotations=annotations, shapes=shapes)

fig.write_html("out.html", config={"displayModeBar": False},
               post_script="document.body.style.margin='0px';document.body.style.overflow='hidden';")
